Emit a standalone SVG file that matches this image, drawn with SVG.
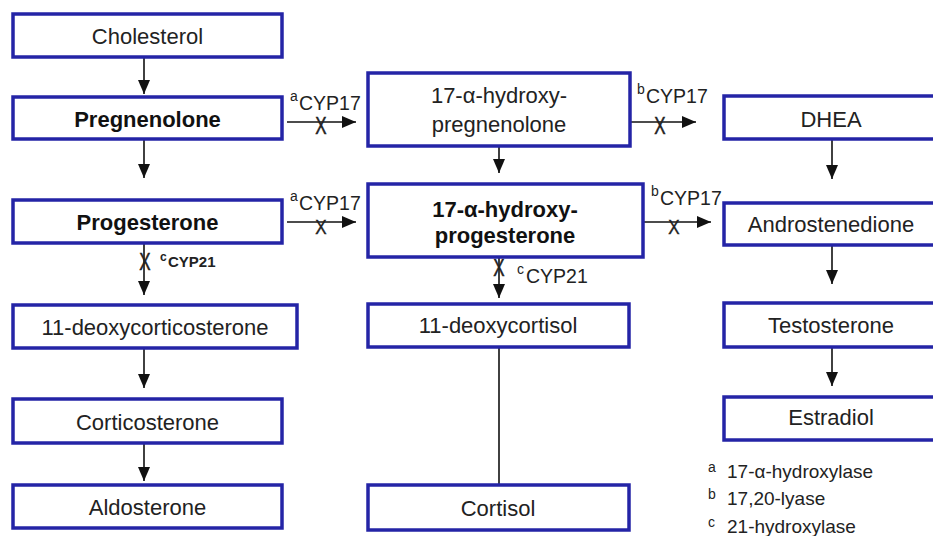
<svg xmlns="http://www.w3.org/2000/svg" width="933" height="536" viewBox="0 0 933 536">
<style>
.box{fill:#fff;stroke:#2424a6;stroke-width:3.5}
.t{font-family:"Liberation Sans",Arial,sans-serif;font-size:22px;fill:#222;text-anchor:middle}
.b{font-weight:bold;fill:#111}
.lab{font-family:"Liberation Sans",Arial,sans-serif;font-size:19.5px;fill:#222}
.sup{font-size:14px}
.x{font-family:"Liberation Sans",Arial,sans-serif;font-size:20px;fill:#222;stroke:#222;stroke-width:0.4}
.c{stroke:#111;stroke-width:1.6;fill:none}
.leg{font-family:"Liberation Sans",Arial,sans-serif;font-size:19px;fill:#222}
</style>
<defs>
<marker id="ah" markerUnits="userSpaceOnUse" markerWidth="14" markerHeight="12" refX="14" refY="6" orient="auto">
<path d="M0,0 L14,6 L0,12 Z" fill="#111"/>
</marker>
</defs>
<rect width="933" height="536" fill="#fff"/>

<g id="connectors">
<line class="c" x1="144" y1="57" x2="144" y2="94" marker-end="url(#ah)"/>
<line class="c" x1="144" y1="139" x2="144" y2="178" marker-end="url(#ah)"/>
<line class="c" x1="144" y1="243" x2="144" y2="295" marker-end="url(#ah)"/>
<line class="c" x1="144" y1="348" x2="144" y2="388" marker-end="url(#ah)"/>
<line class="c" x1="144" y1="443" x2="144" y2="481" marker-end="url(#ah)"/>
<line class="c" x1="287" y1="122" x2="356" y2="122" marker-end="url(#ah)"/>
<line class="c" x1="287" y1="222" x2="356" y2="222" marker-end="url(#ah)"/>
<line class="c" x1="499" y1="146" x2="499" y2="173" marker-end="url(#ah)"/>
<line class="c" x1="499" y1="257" x2="499" y2="298" marker-end="url(#ah)"/>
<line class="c" x1="499" y1="347" x2="499" y2="485"/>
<line class="c" x1="630" y1="122" x2="696" y2="122" marker-end="url(#ah)"/>
<line class="c" x1="643" y1="222" x2="711" y2="222" marker-end="url(#ah)"/>
<line class="c" x1="832" y1="139" x2="832" y2="179" marker-end="url(#ah)"/>
<line class="c" x1="832" y1="245" x2="832" y2="284" marker-end="url(#ah)"/>
<line class="c" x1="832" y1="347" x2="832" y2="386" marker-end="url(#ah)"/>
<text class="x" transform="translate(321,134) scale(0.85,1.2)" text-anchor="middle">X</text>
<text class="x" transform="translate(321,234) scale(0.85,1.05)" text-anchor="middle">X</text>
<text class="x" transform="translate(660,134) scale(0.85,1.2)" text-anchor="middle">X</text>
<text class="x" transform="translate(674,234) scale(0.85,1.05)" text-anchor="middle">X</text>
<text class="x" transform="translate(145,270) scale(0.85,1.2)" text-anchor="middle">X</text>
<text class="x" transform="translate(499,276) scale(0.85,1.2)" text-anchor="middle">X</text>
<text class="lab"><tspan class="sup" x="290" y="101">a</tspan><tspan x="299" y="110">CYP17</tspan></text>
<text class="lab"><tspan class="sup" x="290" y="201">a</tspan><tspan x="299" y="210">CYP17</tspan></text>
<text class="lab"><tspan class="sup" x="637" y="94">b</tspan><tspan x="646" y="103">CYP17</tspan></text>
<text class="lab"><tspan class="sup" x="651" y="196">b</tspan><tspan x="660" y="205">CYP17</tspan></text>
<text class="lab"><tspan class="sup" x="517" y="274">c</tspan><tspan x="526" y="283">CYP21</tspan></text>
<text class="lab" style="font-weight:bold;font-size:15px"><tspan style="font-size:12px" x="160" y="261">c</tspan><tspan x="168" y="267">CYP21</tspan></text>
</g>

<g id="cholesterol"><rect class="box" x="13" y="14" width="269" height="43"/><text class="t" x="147.5" y="44">Cholesterol</text></g>
<g id="pregnenolone"><rect class="box" x="13" y="97" width="269" height="42"/><text class="t b" x="147.5" y="127">Pregnenolone</text></g>
<g id="progesterone"><rect class="box" x="13" y="200" width="269" height="43"/><text class="t b" x="147.5" y="230">Progesterone</text></g>
<g id="deoxycorticosterone"><rect class="box" x="13" y="305" width="284" height="43"/><text class="t" x="155" y="335">11-deoxycorticosterone</text></g>
<g id="corticosterone"><rect class="box" x="13" y="399" width="269" height="44"/><text class="t" x="147.5" y="430">Corticosterone</text></g>
<g id="aldosterone"><rect class="box" x="13" y="485" width="269" height="43"/><text class="t" x="147.5" y="515">Aldosterone</text></g>

<g id="oh-pregnenolone"><rect class="box" x="368" y="73" width="262" height="73"/><text class="t" x="499" y="103">17-α-hydroxy-</text><text class="t" x="499" y="132">pregnenolone</text></g>
<g id="oh-progesterone"><rect class="box" x="368" y="184" width="275" height="73"/><text class="t b" x="505" y="217">17-α-hydroxy-</text><text class="t b" x="505" y="243">progesterone</text></g>
<g id="deoxycortisol"><rect class="box" x="368" y="304" width="261" height="43"/><text class="t" x="498" y="333">11-deoxycortisol</text></g>
<g id="cortisol"><rect class="box" x="368" y="485" width="261" height="45"/><text class="t" x="498" y="516">Cortisol</text></g>

<g id="dhea"><rect class="box" x="724" y="96" width="220" height="43"/><text class="t" x="831" y="127">DHEA</text></g>
<g id="androstenedione"><rect class="box" x="724" y="203" width="220" height="42"/><text class="t" x="831" y="232">Androstenedione</text></g>
<g id="testosterone"><rect class="box" x="724" y="303" width="220" height="44"/><text class="t" x="831" y="333">Testosterone</text></g>
<g id="estradiol"><rect class="box" x="724" y="397" width="220" height="43"/><text class="t" x="831" y="425">Estradiol</text></g>

<g id="legend">
<text class="leg"><tspan class="sup" x="708" y="472">a</tspan><tspan x="727" y="478">17-α-hydroxylase</tspan></text>
<text class="leg"><tspan class="sup" x="708" y="499">b</tspan><tspan x="727" y="505">17,20-lyase</tspan></text>
<text class="leg"><tspan class="sup" x="708" y="527">c</tspan><tspan x="727" y="533">21-hydroxylase</tspan></text>
</g>
</svg>
